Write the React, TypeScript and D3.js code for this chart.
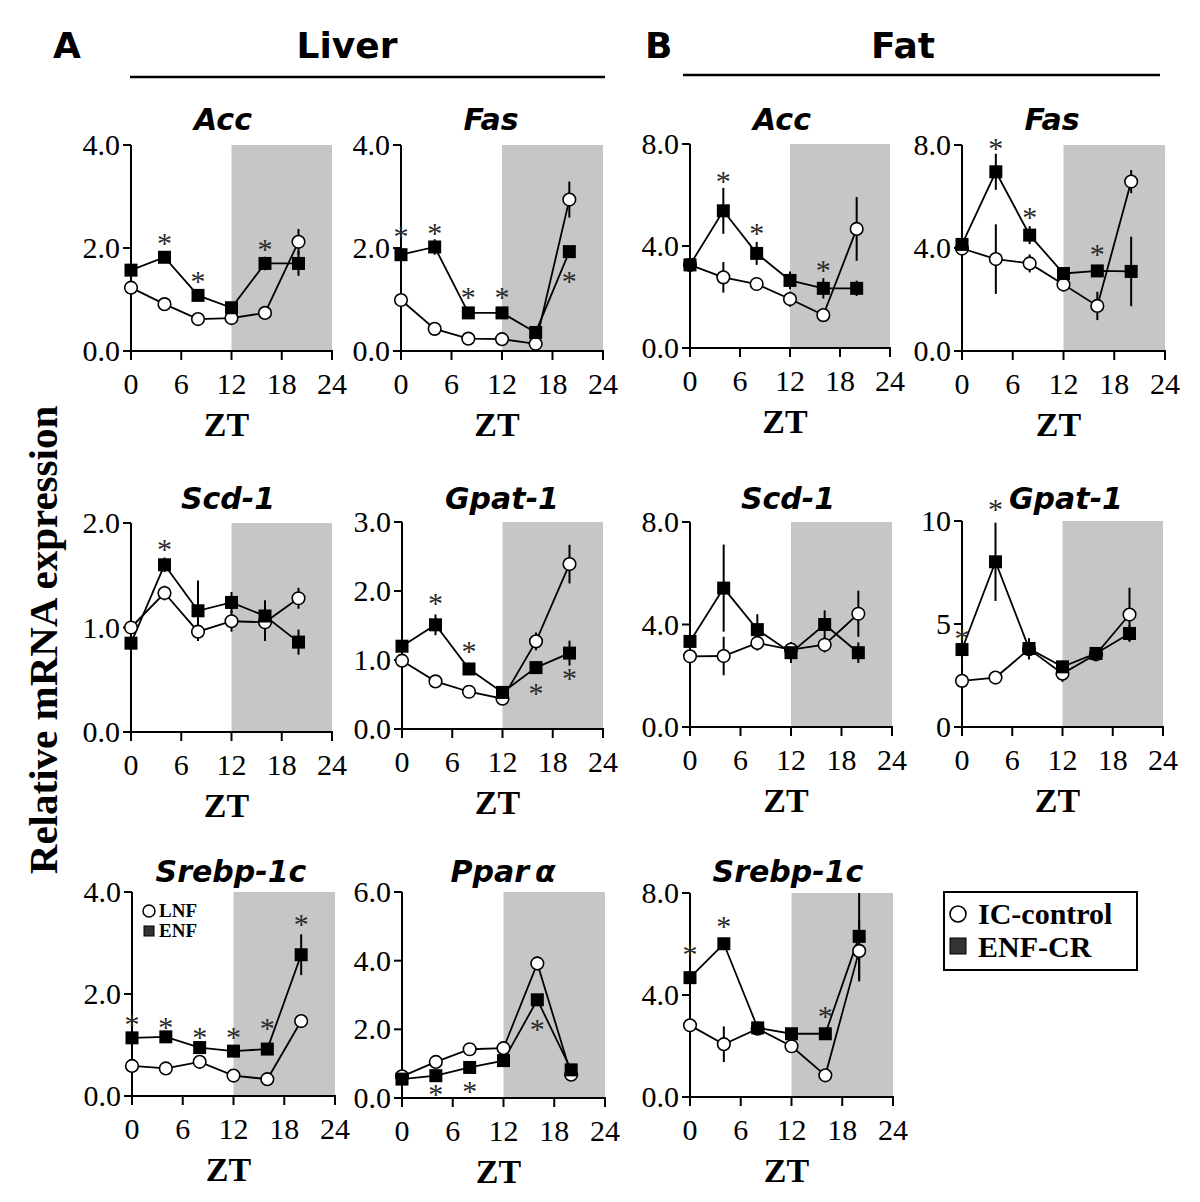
import React from 'react';
import * as d3 from 'd3';

// ---------------- data ----------------
const ZT_TIMES = [0, 4, 8, 12, 16, 20];
const X_TICKS = [0, 6, 12, 18, 24];

// Liver
const liverAccIC = [1.23, 0.91, 0.62, 0.64, 0.74, 2.12];
const liverAccICErr = [0.05, 0.04, 0.04, 0.03, 0.05, 0.25];
const liverAccENF = [1.57, 1.82, 1.08, 0.84, 1.7, 1.7];
const liverAccENFErr = [0.06, 0.08, 0.1, 0.06, 0.13, 0.24];
const liverAccStars = [[4, 2.18], [8, 1.44], [16, 2.06]];

const liverFasIC = [0.99, 0.43, 0.24, 0.23, 0.14, 2.94];
const liverFasICErr = [0.05, 0.13, 0.04, 0.03, 0.03, 0.35];
const liverFasENF = [1.87, 2.02, 0.74, 0.74, 0.36, 1.93];
const liverFasENFErr = [0.08, 0.15, 0.08, 0.1, 0.06, 0.1];
const liverFasStars = [[0, 2.31], [4, 2.36], [8, 1.13], [12, 1.13], [20, 1.44]];

const liverScdIC = [1.0, 1.33, 0.96, 1.06, 1.05, 1.28];
const liverScdICErr = [0.03, 0.07, 0.08, 0.1, 0.18, 0.1];
const liverScdENF = [0.85, 1.6, 1.16, 1.24, 1.11, 0.86];
const liverScdENFErr = [0.03, 0.07, 0.29, 0.1, 0.15, 0.12];
const liverScdStars = [[4, 1.79]];

const liverGpatIC = [0.99, 0.69, 0.54, 0.44, 1.27, 2.39];
const liverGpatICErr = [0.03, 0.08, 0.03, 0.03, 0.13, 0.28];
const liverGpatENF = [1.2, 1.51, 0.87, 0.53, 0.89, 1.1];
const liverGpatENFErr = [0.05, 0.15, 0.04, 0.05, 0.05, 0.18];
const liverGpatStars = [[4, 1.89], [8, 1.19], [16, 0.58], [20, 0.8]];

const liverSrebpIC = [0.59, 0.54, 0.67, 0.4, 0.33, 1.47];
const liverSrebpICErr = [0.03, 0.03, 0.03, 0.03, 0.03, 0.12];
const liverSrebpENF = [1.14, 1.16, 0.95, 0.88, 0.92, 2.77];
const liverSrebpENFErr = [0.05, 0.05, 0.05, 0.1, 0.1, 0.4];
const liverSrebpStars = [[0, 1.5], [4, 1.44], [8, 1.24], [12, 1.24], [16, 1.42], [20, 3.45]];

const pparIC = [0.63, 1.05, 1.42, 1.45, 3.92, 0.68];
const pparICErr = [0.05, 0.05, 0.05, 0.05, 0.2, 0.1];
const pparENF = [0.55, 0.65, 0.89, 1.09, 2.86, 0.82];
const pparENFErr = [0.05, 0.05, 0.05, 0.05, 0.1, 0.1];
const pparStars = [[4, 0.22], [8, 0.32], [16, 2.13]];

// Fat
const fatAccIC = [3.26, 2.77, 2.51, 1.92, 1.29, 4.67];
const fatAccICErr = [0.1, 0.6, 0.25, 0.3, 0.1, 1.25];
const fatAccENF = [3.26, 5.38, 3.71, 2.65, 2.34, 2.34];
const fatAccENFErr = [0.1, 0.9, 0.45, 0.35, 0.4, 0.3];
const fatAccStars = [[4, 6.72], [8, 4.66], [16, 3.22]];

const fatFasIC = [3.98, 3.57, 3.4, 2.58, 1.75, 6.58];
const fatFasICErr = [0.1, 1.35, 0.35, 0.2, 0.55, 0.45];
const fatFasENF = [4.14, 6.96, 4.5, 3.01, 3.11, 3.09];
const fatFasENFErr = [0.1, 0.7, 0.35, 0.1, 0.2, 1.35];
const fatFasStars = [[4, 8.04], [8, 5.34], [16, 3.94]];

const fatScdIC = [2.76, 2.77, 3.28, 3.02, 3.21, 4.42];
const fatScdICErr = [0.1, 0.75, 0.3, 0.3, 0.3, 0.9];
const fatScdENF = [3.34, 5.42, 3.8, 2.9, 4.0, 2.9];
const fatScdENFErr = [0.1, 1.7, 0.6, 0.4, 0.55, 0.4];
const fatScdStars: number[][] = [];

const fatGpatIC = [2.24, 2.4, 3.78, 2.59, 3.53, 5.46];
const fatGpatICErr = [0.1, 0.3, 0.5, 0.4, 0.3, 1.3];
const fatGpatENF = [3.76, 8.02, 3.81, 2.92, 3.57, 4.54];
const fatGpatENFErr = [0.2, 1.9, 0.5, 0.3, 0.3, 0.4];
const fatGpatStars = [[0, 4.5], [4, 10.78]];

const fatSrebpIC = [2.81, 2.07, 2.68, 1.99, 0.85, 5.73];
const fatSrebpICErr = [0.1, 0.7, 0.1, 0.1, 0.2, 1.2];
const fatSrebpENF = [4.68, 6.01, 2.71, 2.48, 2.48, 6.3];
const fatSrebpENFErr = [0.1, 0.1, 0.1, 0.1, 0.1, 1.7];
const fatSrebpStars = [[0, 5.75], [4, 6.86], [16, 3.33]];

// ---------------- layout ----------------
type Panel = {
  title: string; alpha?: boolean; titleX: number; titleY: number;
  x0: number; x1: number; y0: number; y1: number;
  ymax: number; yTicks: number[]; fmt: string;
  ic: number[]; icErr: number[]; enf: number[]; enfErr: number[]; stars: number[][];
  inlineLegend?: boolean;
};

const panels: Panel[] = [
  { title: 'Acc', titleX: 223, titleY: 130, x0: 131, x1: 332, y0: 145, y1: 351, ymax: 4, yTicks: [0, 2, 4], fmt: '.1f',
    ic: liverAccIC, icErr: liverAccICErr, enf: liverAccENF, enfErr: liverAccENFErr, stars: liverAccStars },
  { title: 'Fas', titleX: 491, titleY: 130, x0: 401, x1: 603, y0: 145, y1: 351, ymax: 4, yTicks: [0, 2, 4], fmt: '.1f',
    ic: liverFasIC, icErr: liverFasICErr, enf: liverFasENF, enfErr: liverFasENFErr, stars: liverFasStars },
  { title: 'Acc', titleX: 782, titleY: 130, x0: 690, x1: 890, y0: 144, y1: 348, ymax: 8, yTicks: [0, 4, 8], fmt: '.1f',
    ic: fatAccIC, icErr: fatAccICErr, enf: fatAccENF, enfErr: fatAccENFErr, stars: fatAccStars },
  { title: 'Fas', titleX: 1052, titleY: 130, x0: 962, x1: 1165, y0: 145, y1: 351, ymax: 8, yTicks: [0, 4, 8], fmt: '.1f',
    ic: fatFasIC, icErr: fatFasICErr, enf: fatFasENF, enfErr: fatFasENFErr, stars: fatFasStars },

  { title: 'Scd-1', titleX: 228, titleY: 509, x0: 131, x1: 332, y0: 523, y1: 732, ymax: 2, yTicks: [0, 1, 2], fmt: '.1f',
    ic: liverScdIC, icErr: liverScdICErr, enf: liverScdENF, enfErr: liverScdENFErr, stars: liverScdStars },
  { title: 'Gpat-1', titleX: 502, titleY: 509, x0: 402, x1: 603, y0: 522, y1: 729, ymax: 3, yTicks: [0, 1, 2, 3], fmt: '.1f',
    ic: liverGpatIC, icErr: liverGpatICErr, enf: liverGpatENF, enfErr: liverGpatENFErr, stars: liverGpatStars },
  { title: 'Scd-1', titleX: 788, titleY: 509, x0: 690, x1: 892, y0: 522, y1: 727, ymax: 8, yTicks: [0, 4, 8], fmt: '.1f',
    ic: fatScdIC, icErr: fatScdICErr, enf: fatScdENF, enfErr: fatScdENFErr, stars: fatScdStars },
  { title: 'Gpat-1', titleX: 1066, titleY: 509, x0: 962, x1: 1163, y0: 521, y1: 727, ymax: 10, yTicks: [0, 5, 10], fmt: 'd',
    ic: fatGpatIC, icErr: fatGpatICErr, enf: fatGpatENF, enfErr: fatGpatENFErr, stars: fatGpatStars },

  { title: 'Srebp-1c', titleX: 231, titleY: 882, x0: 132, x1: 335, y0: 892, y1: 1096, ymax: 4, yTicks: [0, 2, 4], fmt: '.1f',
    ic: liverSrebpIC, icErr: liverSrebpICErr, enf: liverSrebpENF, enfErr: liverSrebpENFErr, stars: liverSrebpStars, inlineLegend: true },
  { title: 'Ppar', alpha: true, titleX: 503, titleY: 882, x0: 402, x1: 605, y0: 892, y1: 1098, ymax: 6, yTicks: [0, 2, 4, 6], fmt: '.1f',
    ic: pparIC, icErr: pparICErr, enf: pparENF, enfErr: pparENFErr, stars: pparStars },
  { title: 'Srebp-1c', titleX: 788, titleY: 882, x0: 690, x1: 893, y0: 893, y1: 1097, ymax: 8, yTicks: [0, 4, 8], fmt: '.1f',
    ic: fatSrebpIC, icErr: fatSrebpICErr, enf: fatSrebpENF, enfErr: fatSrebpENFErr, stars: fatSrebpStars },
];

const SERIF = '"Liberation Serif", "Times New Roman", serif';
const SANS = '"DejaVu Sans", Verdana, sans-serif';
const SHADE = '#c6c6c6';

function PanelView({ p }: { p: Panel }) {
  const x = d3.scaleLinear().domain([0, 24]).range([p.x0, p.x1]);
  const y = d3.scaleLinear().domain([0, p.ymax]).range([p.y1, p.y0]);
  const fmt = d3.format(p.fmt);
  const line = d3.line<number>().x((_, i) => x(ZT_TIMES[i])).y((d) => y(d));
  const sq = 13;
  const r = 6.3;
  return (
    <g>
      <rect x={x(12)} y={y(p.ymax)} width={x(24) - x(12)} height={y(0) - y(p.ymax)} fill={SHADE} />
      {/* axes */}
      <line x1={p.x0} y1={p.y0} x2={p.x0} y2={p.y1} stroke="#000" strokeWidth={2} />
      <line x1={p.x0 - 8} y1={p.y1} x2={p.x1 + 1} y2={p.y1} stroke="#000" strokeWidth={2} />
      {p.yTicks.map((t) => (
        <g key={'yt' + t}>
          <line x1={p.x0 - 8} x2={p.x0} y1={y(t)} y2={y(t)} stroke="#000" strokeWidth={2} />
          <text x={p.x0 - 11} y={y(t) + 10} textAnchor="end" fontFamily={SERIF} fontSize={30}>{fmt(t)}</text>
        </g>
      ))}
      {X_TICKS.map((t) => (
        <g key={'xt' + t}>
          <line x1={x(t)} x2={x(t)} y1={p.y1} y2={p.y1 + 9} stroke="#000" strokeWidth={2} />
          <text x={x(t)} y={p.y1 + 43} textAnchor="middle" fontFamily={SERIF} fontSize={30}>{t}</text>
        </g>
      ))}
      <text x={(p.x0 + p.x1) / 2 - 5} y={p.y1 + 85} textAnchor="middle" fontFamily={SERIF} fontWeight="bold" fontSize={34}>ZT</text>
      {/* title */}
      <text x={p.titleX} y={p.titleY} textAnchor="middle" fontFamily={SANS} fontWeight="bold" fontStyle="italic" fontSize={30}>
        {p.title}{p.alpha ? <tspan dx={6}>α</tspan> : null}
      </text>
      {/* lines */}
      <path d={line(p.ic) || ''} fill="none" stroke="#000" strokeWidth={1.8} />
      <path d={line(p.enf) || ''} fill="none" stroke="#000" strokeWidth={1.8} />
      {/* error bars */}
      {p.ic.map((v, i) => (
        <line key={'ei' + i} x1={x(ZT_TIMES[i])} x2={x(ZT_TIMES[i])} y1={y(v - p.icErr[i])} y2={y(v + p.icErr[i])} stroke="#000" strokeWidth={2} />
      ))}
      {p.enf.map((v, i) => (
        <line key={'ee' + i} x1={x(ZT_TIMES[i])} x2={x(ZT_TIMES[i])} y1={y(v - p.enfErr[i])} y2={y(Math.min(p.ymax, v + p.enfErr[i]))} stroke="#000" strokeWidth={2} />
      ))}
      {/* markers */}
      {p.ic.map((v, i) => (
        <circle key={'ci' + i} cx={x(ZT_TIMES[i])} cy={y(v)} r={r} fill="#fff" stroke="#000" strokeWidth={1.6} />
      ))}
      {p.enf.map((v, i) => (
        <rect key={'si' + i} x={x(ZT_TIMES[i]) - sq / 2} y={y(v) - sq / 2} width={sq} height={sq} fill="#000" />
      ))}
      {/* significance */}
      {p.stars.map((s, i) => (
        <text key={'st' + i} x={x(s[0])} y={y(s[1]) + 14} textAnchor="middle" fontFamily={SERIF} fontSize={30} fill="#2a2a2a">*</text>
      ))}
      {p.inlineLegend ? (
        <g>
          <circle cx={p.x0 + 17} cy={p.y0 + 19} r={6} fill="#fff" stroke="#000" strokeWidth={1.5} />
          <text x={p.x0 + 27} y={p.y0 + 25} fontFamily={SERIF} fontWeight="bold" fontSize={19}>LNF</text>
          <rect x={p.x0 + 12} y={p.y0 + 34} width={10} height={10} fill="#333" stroke="#000" strokeWidth={1} />
          <text x={p.x0 + 27} y={p.y0 + 45} fontFamily={SERIF} fontWeight="bold" fontSize={19}>ENF</text>
        </g>
      ) : null}
    </g>
  );
}

export default function App() {
  return (
    <div style={{ position: 'absolute', left: 0, top: 0 }}>
      <svg width={1200} height={1202} viewBox="0 0 1200 1202" style={{ display: 'block', background: '#fff' }}>
        <rect x={0} y={0} width={1200} height={1202} fill="#fff" />
        {/* headers */}
        <text x={53} y={58} fontFamily={SANS} fontWeight="bold" fontSize={36}>A</text>
        <text x={347} y={58} textAnchor="middle" fontFamily={SANS} fontWeight="bold" fontSize={36}>Liver</text>
        <line x1={130} x2={605} y1={77} y2={77} stroke="#000" strokeWidth={2.5} />
        <text x={645} y={58} fontFamily={SANS} fontWeight="bold" fontSize={36}>B</text>
        <text x={903} y={58} textAnchor="middle" fontFamily={SANS} fontWeight="bold" fontSize={36}>Fat</text>
        <line x1={683} x2={1160} y1={75} y2={75} stroke="#000" strokeWidth={2.5} />
        {/* y label */}
        <text transform="translate(57,640) rotate(-90)" textAnchor="middle" fontFamily={SERIF} fontWeight="bold" fontSize={41}>Relative mRNA expression</text>
        {panels.map((p, i) => <PanelView key={i} p={p} />)}
        {/* legend */}
        <rect x={944} y={892} width={193} height={78} fill="#fff" stroke="#000" strokeWidth={2} />
        <circle cx={958} cy={914} r={8} fill="#fff" stroke="#000" strokeWidth={1.6} />
        <text x={978} y={924} fontFamily={SERIF} fontWeight="bold" fontSize={30}>IC-control</text>
        <rect x={950} y={938} width={16} height={16} fill="#333" stroke="#000" strokeWidth={1} />
        <text x={978} y={957} fontFamily={SERIF} fontWeight="bold" fontSize={30}>ENF-CR</text>
      </svg>
    </div>
  );
}
